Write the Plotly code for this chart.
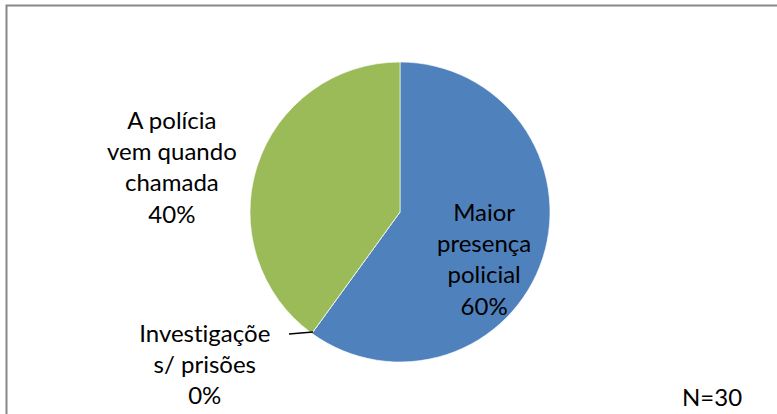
import plotly.graph_objects as go

labels = ["Maior presença policial", "Investigações/ prisões", "A polícia vem quando chamada"]
values = [60, 0, 40]
colors = ["#4F81BD", "#C0504D", "#9BBB59"]
label_texts = ["Maior<br>presença<br>policial<br>60%", "Investigaçõe<br>s/ prisões<br>0%", "A polícia<br>vem quando<br>chamada<br>40%"]
note = "N=30"

W, H = 777, 414
FONT = "Lato"
FS = 24

def px(x):
    return x / W

def py(y):
    return (H - y) / H

fig = go.Figure()
fig.add_trace(go.Pie(
    labels=labels, values=values, sort=False, direction="clockwise", rotation=0,
    marker=dict(colors=colors, line=dict(color="rgba(255,255,255,0.6)", width=1)),
    textinfo="none", hoverinfo="label+percent", showlegend=False,
    domain=dict(x=[px(250), px(550)], y=[py(362), py(62)]),
))

label_pos = [(484, 258), (205, 363), (172, 166)]
for t, (x, y) in zip(label_texts, label_pos):
    fig.add_annotation(x=px(x), y=py(y), xref="paper", yref="paper", text=t,
                       showarrow=False, font=dict(family=FONT, size=FS, color="#000000"),
                       xanchor="center", yanchor="middle", align="center")

fig.add_annotation(x=px(712), y=py(396), xref="paper", yref="paper", text=note,
                   showarrow=False, font=dict(family=FONT, size=FS, color="#000000"),
                   xanchor="center", yanchor="middle")

# leader line for the 0% slice
fig.add_shape(type="line", xref="paper", yref="paper",
              x0=px(289), y0=py(334), x1=px(313), y1=py(332),
              line=dict(color="#000000", width=1.5))

# chart border
fig.add_shape(type="rect", xref="paper", yref="paper",
              x0=px(6.5), y0=-0.05, x1=1.05, y1=py(5.5),
              line=dict(color="#878787", width=2), fillcolor="rgba(0,0,0,0)")

fig.update_layout(width=W, height=H, margin=dict(l=0, r=0, t=0, b=0),
                  paper_bgcolor="#FFFFFF", plot_bgcolor="#FFFFFF")

post = ("var s=document.createElement('style');"
        "s.innerHTML='html,body{margin:0;padding:0;overflow:hidden} svg text{font-variant-ligatures:none !important; font-feature-settings:\"liga\" 0 !important}';"
        "document.head.appendChild(s);")
fig.write_html("out.html", post_script=post, config={"displayModeBar": False})
